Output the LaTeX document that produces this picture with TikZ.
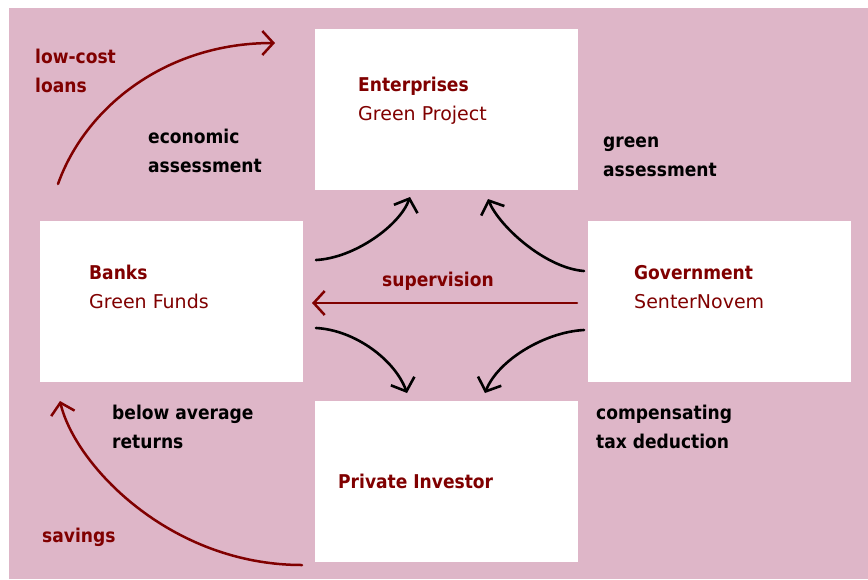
\documentclass[tikz,border=0pt]{standalone}
\usepackage{fontspec}
\setmainfont{DejaVu Sans Condensed}
\newfontfamily\widefont{DejaVu Sans}
\usetikzlibrary{arrows.meta}
\definecolor{bgpink}{HTML}{DEB6C8}
\definecolor{dred}{HTML}{800000}
\newcommand{\twolines}[2]{\vtop{\hbox{#1}\hbox{#2}}}
\begin{document}
\begin{tikzpicture}[x=1pt,y=-1pt,
  box/.style={fill=white, draw=none, minimum width=263pt, minimum height=161pt, inner sep=0pt, anchor=north west},
  lbl/.style={anchor=base west, inner sep=0pt, font=\fontsize{19}{29}\selectfont},
  redflow/.style={draw=dred, line width=2.5pt, line cap=round, -{Straight Barb[length=11pt,width=24pt]}},
  blkflow/.style={draw=black, line width=2.6pt, line cap=round, -{Straight Barb[length=11pt,width=25pt]}}]
\useasboundingbox (0,0) rectangle (868,579);
\fill[bgpink] (9,8) rectangle (868,579);
% boxes
\node[box] (ent) at (315,29) {};
\node[box] (bank) at (40,221) {};
\node[box] (gov) at (588,221) {};
\node[box] (inv) at (315,401) {};
% box titles
\node[lbl, text=dred] (entT) at (358,91) {\twolines{\bfseries Enterprises}{\widefont Green Project}};
\node[lbl, text=dred] (bankT) at (89,279) {\twolines{\bfseries Banks}{\widefont Green Funds}};
\node[lbl, text=dred] (govT) at (634,279) {\twolines{\bfseries Government}{\widefont SenterNovem}};
\node[lbl, text=dred, font=\fontsize{19}{29}\selectfont\bfseries] (invT) at (338,488) {Private Investor};
% labels
\node[lbl, text=dred, font=\fontsize{19}{29}\selectfont\bfseries] (loansT) at (35,63) {\twolines{low-cost}{loans}};
\node[lbl, font=\fontsize{19}{29}\selectfont\bfseries] (econT) at (148,143) {\twolines{economic}{assessment}};
\node[lbl, font=\fontsize{19}{29}\selectfont\bfseries] (greenT) at (603,147) {\twolines{green}{assessment}};
\node[lbl, text=dred, font=\fontsize{19}{29}\selectfont\bfseries] (supT) at (382,286) {supervision};
\node[lbl, font=\fontsize{19}{29}\selectfont\bfseries] (belowT) at (112,419) {\twolines{below average}{returns}};
\node[lbl, font=\fontsize{19}{29}\selectfont\bfseries] (compT) at (596,419) {\twolines{compensating}{tax deduction}};
\node[lbl, text=dred, font=\fontsize{19}{29}\selectfont\bfseries] (savT) at (42,542) {savings};
% connector end points
\coordinate (loanS) at (58,184);
\coordinate (loanE) at (275,43);
\coordinate (savS) at (302,565);
\coordinate (savE) at (60,401);
\coordinate (supS) at (577,303);
\coordinate (supE) at (312,303);
\coordinate (be1) at (316,260);
\coordinate (be2) at (410,197);
\coordinate (ge1) at (584,271);
\coordinate (ge2) at (488,199);
\coordinate (bi1) at (316,328);
\coordinate (bi2) at (407,393);
\coordinate (gi1) at (584,330);
\coordinate (gi2) at (485,393);
% red flows
\draw[redflow] (loanS) .. controls (85,108) and (165,43) .. (loanE);
\draw[redflow] (savS) .. controls (170,565) and (75,465) .. (savE);
\draw[redflow] (supS) -- (supE);
% black flows
\draw[blkflow] (be1) .. controls (355,258) and (400,225) .. (be2);
\draw[blkflow] (ge1) .. controls (545,268) and (499,226) .. (ge2);
\draw[blkflow] (bi1) .. controls (355,330) and (395,360) .. (bi2);
\draw[blkflow] (gi1) .. controls (545,332) and (498,360) .. (gi2);
\end{tikzpicture}
\end{document}
